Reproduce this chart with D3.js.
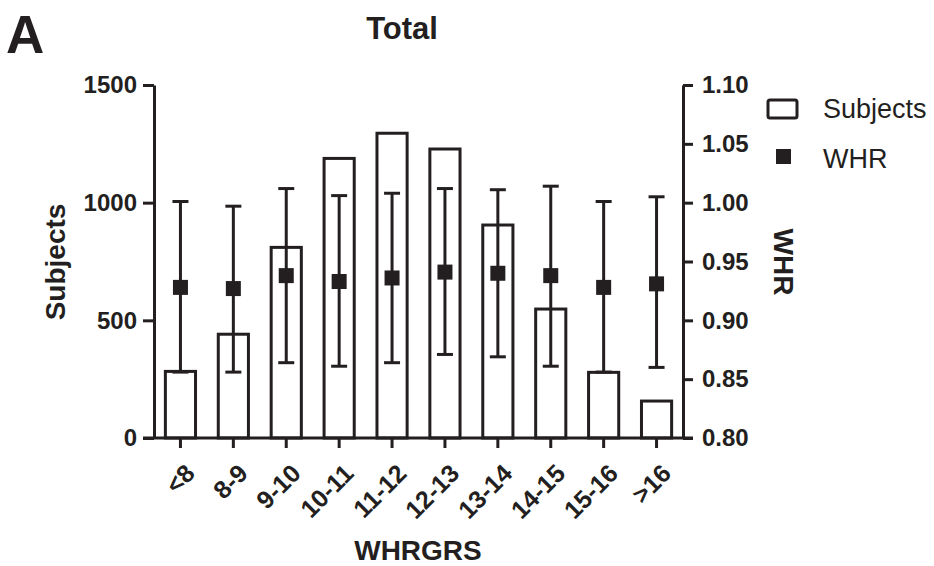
<!DOCTYPE html>
<html><head><meta charset="utf-8">
<script src="https://cdn.jsdelivr.net/npm/d3@7"></script>
<style>body{margin:0;background:#fff}svg{display:block;font-family:"Liberation Sans",Arial,sans-serif}</style>
</head><body><svg id="c" width="934" height="566"></svg>
<script>
const categories = ["<8","8-9","9-10","10-11","11-12","12-13","13-14","14-15","15-16",">16"];
const subjects = [283, 441, 810, 1188, 1295, 1228, 905, 548, 279, 157];
const whrMean = [0.928, 0.927, 0.938, 0.933, 0.936, 0.941, 0.940, 0.938, 0.928, 0.931];
const whrLower = [0.856, 0.856, 0.864, 0.861, 0.864, 0.871, 0.869, 0.861, 0.856, 0.860];
const whrUpper = [1.001, 0.997, 1.012, 1.006, 1.008, 1.012, 1.011, 1.014, 1.001, 1.005];
const leftTicks = [0, 500, 1000, 1500];
const rightTicks = [0.80, 0.85, 0.90, 0.95, 1.00, 1.05, 1.10];

const ink = "#231f20";
const FF = '"Liberation Sans",Arial,sans-serif';
const svg = d3.select("#c");
const L = 154, R = 683, T = 85, B = 438;

const x = d3.scaleBand().domain(categories).range([L, R]).paddingInner(0.43).paddingOuter(0.215);
const yL = d3.scaleLinear().domain([0, 1500]).range([B, T]);
const yR = d3.scaleLinear().domain([0.80, 1.10]).range([B, T]);

// bars
svg.append("g").selectAll("rect").data(categories).join("rect")
  .attr("x", d => x(d)).attr("width", x.bandwidth())
  .attr("y", (d,i) => yL(subjects[i])).attr("height", (d,i) => B - yL(subjects[i]))
  .attr("fill", "#fff").attr("stroke", ink).attr("stroke-width", 3);

// axes
function styleAxis(g, fs){
  g.attr("font-family", FF);
  g.select(".domain").attr("stroke", ink).attr("stroke-width", 3);
  g.selectAll(".tick line").attr("stroke", ink).attr("stroke-width", 3);
  g.selectAll(".tick text").attr("fill", ink).attr("font-weight", "bold").attr("font-size", fs);
}
const gl = svg.append("g").attr("transform", `translate(${L},0)`)
  .call(d3.axisLeft(yL).tickValues(leftTicks).tickSize(11).tickSizeOuter(0).tickPadding(6).tickFormat(d3.format("d")));
styleAxis(gl, 24);
const gr = svg.append("g").attr("transform", `translate(${R},0)`)
  .call(d3.axisRight(yR).tickValues(rightTicks).tickSize(10).tickSizeOuter(0).tickPadding(9).tickFormat(d3.format(".2f")));
styleAxis(gr, 24);
const gx = svg.append("g").attr("transform", `translate(0,${B})`)
  .call(d3.axisBottom(x).tickSize(10).tickSizeOuter(0).tickPadding(0));
styleAxis(gx, 25);
gx.select(".domain").attr("d", `M${L-11},0H${R+10}`);
gx.selectAll(".tick text")
  .attr("text-anchor", "end").attr("dy", 0).attr("y", 0).attr("x", 0)
  .attr("transform", "translate(16,37) rotate(-45)");

// error bars
const cap = 8;
const eb = svg.append("g").attr("stroke", ink).attr("stroke-width", 3).attr("fill", "none");
categories.forEach((c,i) => {
  const cx = x(c) + x.bandwidth()/2;
  eb.append("line").attr("x1", cx).attr("x2", cx).attr("y1", yR(whrLower[i])).attr("y2", yR(whrUpper[i]));
  eb.append("line").attr("x1", cx-cap).attr("x2", cx+cap).attr("y1", yR(whrUpper[i])).attr("y2", yR(whrUpper[i]));
  eb.append("line").attr("x1", cx-cap).attr("x2", cx+cap).attr("y1", yR(whrLower[i])).attr("y2", yR(whrLower[i]));
});
svg.append("g").selectAll("rect").data(categories).join("rect")
  .attr("x", d => x(d) + x.bandwidth()/2 - 7.5).attr("width", 15)
  .attr("y", (d,i) => yR(whrMean[i]) - 7.5).attr("height", 15)
  .attr("fill", ink);

// texts
svg.append("text").attr("x", 6).attr("y", 53).attr("font-size", 53).attr("font-weight", "bold").attr("fill", ink).text("A");
svg.append("text").attr("x", 402).attr("y", 39).attr("text-anchor", "middle").attr("font-size", 31).attr("font-weight", "bold").attr("fill", ink).text("Total");
svg.append("text").attr("transform", `translate(65,262) rotate(-90)`).attr("text-anchor", "middle").attr("font-size", 28).attr("font-weight", "bold").attr("fill", ink).text("Subjects");
svg.append("text").attr("transform", `translate(774,262) rotate(90)`).attr("text-anchor", "middle").attr("font-size", 28).attr("font-weight", "bold").attr("fill", ink).text("WHR");
svg.append("text").attr("x", 418).attr("y", 560).attr("text-anchor", "middle").attr("font-size", 28).attr("font-weight", "bold").attr("fill", ink).text("WHRGRS");

// legend
const lg = svg.append("g");
lg.append("rect").attr("x", 768).attr("y", 100).attr("width", 29).attr("height", 18).attr("rx", 2).attr("fill", "#fff").attr("stroke", ink).attr("stroke-width", 3);
lg.append("text").attr("x", 823).attr("y", 118).attr("font-size", 27).attr("fill", ink).text("Subjects");
lg.append("rect").attr("x", 776).attr("y", 149).attr("width", 15).attr("height", 15).attr("fill", ink);
lg.append("text").attr("x", 823).attr("y", 168).attr("font-size", 27).attr("fill", ink).text("WHR");
</script></body></html>
